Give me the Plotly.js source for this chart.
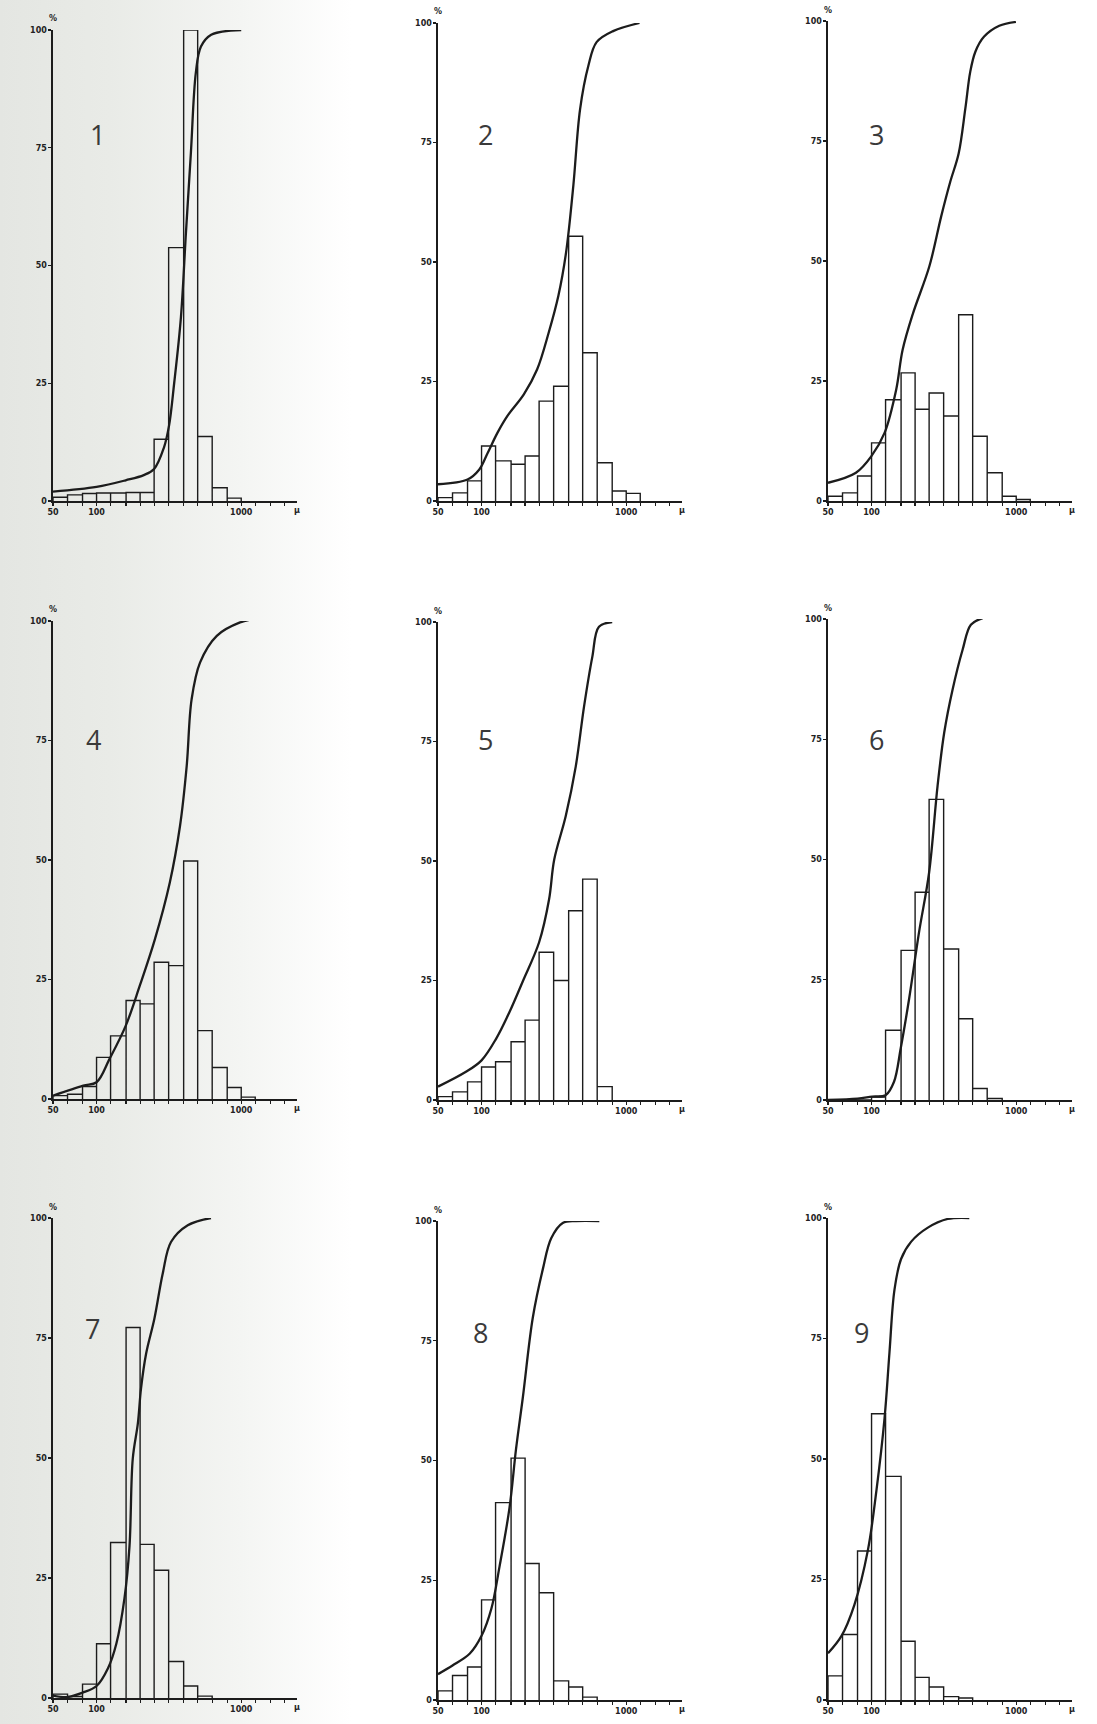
<!DOCTYPE html>
<html><head><meta charset="utf-8">
<script src="https://cdn.plot.ly/plotly-3.0.1.min.js"></script>
<style>
html,body{margin:0;padding:0;}
body{width:1097px;height:1724px;background:linear-gradient(to right,#e4e6e2 0%,#e9ebe7 10%,#f4f5f3 22%,#ffffff 32%,#ffffff 100%);}
#chart{width:1097px;height:1724px;}
</style></head><body><div id="chart"></div>
<script>
// ---- data (grain size classes in microns, % values) ----
const binEdges = [50,63,80,100,125,160,200,250,315,400,500,630,800,1000,1250];

const hist1 = [0.8,1.3,1.6,1.7,1.7,1.8,1.8,13.1,53.8,100,13.7,2.8,0.6,0];
const hist2 = [0.7,1.7,4.2,11.5,8.4,7.7,9.4,20.9,24.0,55.4,31.0,8.0,2.1,1.6];
const hist3 = [1.0,1.7,5.2,12.1,21.1,26.7,19.1,22.5,17.7,38.8,13.5,5.9,1.0,0.3];
const hist4 = [0.7,1.0,2.6,8.7,13.2,20.6,19.9,28.6,27.9,49.8,14.3,6.6,2.4,0.4];
const hist5 = [0.7,1.7,3.8,6.9,8.0,12.2,16.7,30.9,25.0,39.6,46.2,2.8,0,0];
const hist6 = [0,0,0,0.6,14.5,31.1,43.2,62.5,31.4,16.9,2.4,0.3,0,0];
const hist7 = [0.8,0.3,2.9,11.3,32.4,77.2,32.0,26.6,7.6,2.5,0.4,0,0,0];
const hist8 = [1.9,5.1,6.9,20.9,41.2,50.5,28.5,22.4,4.0,2.7,0.6,0,0,0];
const hist9 = [5.0,13.6,30.9,59.4,46.4,12.2,4.7,2.7,0.7,0.4,0,0,0,0];

const curveX1 = [50,100,159,212,250,292,317,344,383,415,449,486,527,620,1000];
const curveY1 = [2.0,3.0,4.4,5.5,6.8,11.3,16,25,39,57,74,91,96.5,99,100];
const curveX2 = [50,80,96.5,110,129,151,196,242,291,340,384,431,480,547,624,811,1235];
const curveY2 = [3.5,4.5,6.6,10,14.3,17.8,22.3,27.5,35.2,43,52,66,82,91,96,98.3,100];
const curveX3 = [50,78,100,123,148,164,193,251,303,350,400,445,481,522,598,764,995];
const curveY3 = [3.8,5.9,9.4,14.2,23.2,31.5,39,48.9,59.3,66.5,72.4,81.8,89.4,93.6,96.7,99,99.8];
const curveX4 = [50,81,100,123,159,199,253,321,377,420,454,519,678,982,1282];
const curveY4 = [0.7,2.8,3.5,8.4,15.3,23.7,33.4,45.3,57,69.7,83.6,91.3,96.9,99.7,100.5];
const curveX5 = [50,78,100,126,156,192,250,293,318,382,448,511,583,648,800];
const curveY5 = [2.8,5.9,8.3,12.8,18.4,24.7,33,42,50.3,59.4,69.8,82.3,92.7,99,100];
const curveX6 = [50,80,101,125,143,159,182,213,250,286,318,363,426,486,586];
const curveY6 = [0,0.3,0.7,1.0,3.8,10.7,21.1,34.9,47.3,65.3,76.4,85.3,93.6,98.8,100.2];
const curveX7 = [50,63,80,100,120,137,156,169,178,193,203,220,251,287,327,427,618];
const curveY7 = [0.5,0.2,1.1,2.5,6.2,11.3,20.8,31.7,49.9,57.2,64.5,71.7,79,88.5,95,98.5,100];
const curveX8 = [50,63,83,100,117,133,156,173,193,226,265,303,364,450,652];
const curveY8 = [5.4,7.2,9.7,13.4,19.1,27.8,40.1,52.3,63.2,79.8,89.9,96.4,99.6,100,100];
const curveX9 = [50,62,76,94.5,108,123,133,144,160,188,245,336,474];
const curveY9 = [9.7,13.3,19.7,31.2,43.4,58.5,72.1,85.1,91.5,95.1,98,99.8,100];

const xTickVals = [50,63,80,100,125,160,200,250,315,400,500,630,800,1000,1250,1600,2000];
const xTickText = ['50','','','100','','','','','','','','','','1000','','',''];
const yTickVals = [0,25,50,75,100];
const yTickText = ['0','25','50','75','100'];
const panelLabels = ['1','2','3','4','5','6','7','8','9'];
const xUnitLabel = 'μ';
const yUnitLabel = '%';

// ---- layout geometry (pixels) ----
const W = 1097, H = 1724;
const colX0 = [53, 438, 828];
const plotW = 244;
const panelY = [[30,501],[23,501],[21,501],[621,1099],[622,1100],[619,1100],[1218,1698],[1221,1700],[1218,1700]];
const labelPos = [[97,134],[485,134],[876,134],[93,739],[485,739],[876,739],[92,1328],[480,1332],[861,1332]];

const hists = [hist1,hist2,hist3,hist4,hist5,hist6,hist7,hist8,hist9];
const cxs = [curveX1,curveX2,curveX3,curveX4,curveX5,curveX6,curveX7,curveX8,curveX9];
const cys = [curveY1,curveY2,curveY3,curveY4,curveY5,curveY6,curveY7,curveY8,curveY9];

function histPath(vals){
  let last = 0;
  vals.forEach((v,i)=>{ if(v>0) last=i; });
  const xs=[binEdges[0]], ys=[0];
  for(let i=0;i<=last;i++){
    xs.push(binEdges[i], binEdges[i+1], binEdges[i+1]);
    ys.push(vals[i], vals[i], 0);
  }
  return {xs, ys};
}

const ink = '#1c1c1c';
const tickFont = {family:'DejaVu Sans', size:8, color:'#222', weight:'bold'};
const traces = [];
const layout = {
  width:W, height:H, margin:{l:0,r:0,t:0,b:0},
  paper_bgcolor:'rgba(0,0,0,0)', plot_bgcolor:'rgba(0,0,0,0)',
  showlegend:false, hovermode:false, annotations:[]
};

for(let k=0;k<9;k++){
  const n = k===0 ? '' : String(k+1);
  const col = k%3;
  const x0 = colX0[col];
  const [y100, y0] = panelY[k];
  const hp = histPath(hists[k]);
  traces.push({type:'scatter', mode:'lines', x:hp.xs, y:hp.ys, xaxis:'x'+n, yaxis:'y'+n,
    line:{color:ink, width:1.4}, cliponaxis:false, hoverinfo:'skip'});
  traces.push({type:'scatter', mode:'lines', x:cxs[k], y:cys[k], xaxis:'x'+n, yaxis:'y'+n,
    line:{color:ink, width:2.3, shape:'spline', smoothing:1}, cliponaxis:false, hoverinfo:'skip'});
  layout['xaxis'+n] = {
    type:'log', range:[Math.log10(50), Math.log10(2430)],
    domain:[x0/W, (x0+plotW)/W], anchor:'y'+n,
    showline:true, linecolor:ink, linewidth:1.8, mirror:false,
    ticks:'outside', ticklen:3, tickwidth:1.2, tickcolor:ink,
    tickmode:'array', tickvals:xTickVals, ticktext:xTickText, tickfont:tickFont,
    showgrid:false, zeroline:false, fixedrange:true
  };
  layout['yaxis'+n] = {
    range:[0,100], domain:[1-y0/H, 1-y100/H], anchor:'x'+n,
    showline:true, linecolor:ink, linewidth:1.6,
    ticks:'outside', ticklen:3, tickwidth:1.4, tickcolor:ink,
    tickmode:'array', tickvals:yTickVals, ticktext:yTickText, tickfont:tickFont,
    showgrid:false, zeroline:false, fixedrange:true
  };
  layout.annotations.push({xref:'paper', yref:'paper', x:labelPos[k][0]/W, y:1-labelPos[k][1]/H,
    text:panelLabels[k], showarrow:false, xanchor:'center', yanchor:'middle',
    font:{family:'Open Sans', size:27, color:'#3a3a3a'}});
  layout.annotations.push({xref:'paper', yref:'paper', x:x0/W, y:1-(y100-11)/H,
    text:yUnitLabel, showarrow:false, xanchor:'center', yanchor:'middle', font:tickFont});
  layout.annotations.push({xref:'paper', yref:'paper', x:(x0+plotW)/W, y:1-(y0+9)/H,
    text:xUnitLabel, showarrow:false, xanchor:'center', yanchor:'middle', font:tickFont});
}

Plotly.newPlot('chart', traces, layout, {displayModeBar:false, staticPlot:true});
</script></body></html>
